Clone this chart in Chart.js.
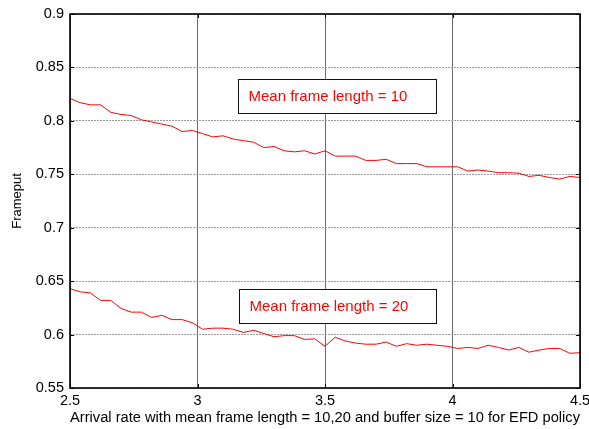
<!DOCTYPE html>
<html>
<head>
<meta charset="utf-8">
<script src="https://cdn.jsdelivr.net/npm/chart.js@4/dist/chart.umd.min.js"></script>
<style>
  html, body { margin: 0; padding: 0; background: #fff; }
  #wrap { width: 589px; height: 429px; }
</style>
</head>
<body>
<div id="wrap"><canvas id="c" width="589" height="429"></canvas></div>
<script>
// Arrival rate samples (step 0.04)
const arrivalRate = [
  2.50, 2.54, 2.58, 2.62, 2.66, 2.70, 2.74, 2.78, 2.82, 2.86,
  2.90, 2.94, 2.98, 3.02, 3.06, 3.10, 3.14, 3.18, 3.22, 3.26,
  3.30, 3.34, 3.38, 3.42, 3.46, 3.50, 3.54, 3.58, 3.62, 3.66,
  3.70, 3.74, 3.78, 3.82, 3.86, 3.90, 3.94, 3.98, 4.02, 4.06,
  4.10, 4.14, 4.18, 4.22, 4.26, 4.30, 4.34, 4.38, 4.42, 4.46,
  4.50
];

// Frameput, mean frame length = 10
const frameputLen10 = [
  0.821, 0.817, 0.815, 0.815, 0.808, 0.806, 0.805, 0.801, 0.799, 0.797,
  0.795, 0.790, 0.791, 0.788, 0.785, 0.786, 0.783, 0.7815, 0.780, 0.775,
  0.776, 0.772, 0.771, 0.772, 0.769, 0.772, 0.767, 0.767, 0.767, 0.763,
  0.763, 0.764, 0.760, 0.760, 0.760, 0.757, 0.757, 0.757, 0.757, 0.753,
  0.754, 0.753, 0.7515, 0.7515, 0.751, 0.748, 0.749, 0.747, 0.7455, 0.748,
  0.747
];

// Frameput, mean frame length = 20
const frameputLen20 = [
  0.643, 0.640, 0.639, 0.632, 0.632, 0.6245, 0.621, 0.621, 0.616, 0.618,
  0.614, 0.614, 0.611, 0.605, 0.606, 0.606, 0.605, 0.602, 0.604, 0.601,
  0.598, 0.599, 0.599, 0.5955, 0.596, 0.589, 0.5975, 0.594, 0.592, 0.591,
  0.591, 0.593, 0.589, 0.5915, 0.590, 0.591, 0.590, 0.589, 0.587, 0.588,
  0.587, 0.590, 0.588, 0.5855, 0.588, 0.5835, 0.5855, 0.587, 0.587, 0.5825,
  0.583
];

const xTickLabels = ['2.5', '3', '3.5', '4', '4.5'];
const yTickLabels = ['0.55', '0.6', '0.65', '0.7', '0.75', '0.8', '0.85', '0.9'];

const seriesLabels = ['Mean frame length = 10', 'Mean frame length = 20'];

const FONT = '"Liberation Sans", Arial, sans-serif';

// Axes frame with inward tick marks on all four sides
const framePlugin = {
  id: 'frame',
  afterDatasetsDraw(chart) {
    const { ctx, chartArea: a, scales } = chart;
    ctx.save();
    ctx.strokeStyle = '#000';
    ctx.lineWidth = 1;
    const tl = 4;
    ctx.beginPath();
    scales.x.ticks.forEach(t => {
      const px = Math.round(scales.x.getPixelForValue(t.value)) + 0.5;
      ctx.moveTo(px, a.bottom); ctx.lineTo(px, a.bottom - tl);
      ctx.moveTo(px, a.top); ctx.lineTo(px, a.top + tl);
    });
    scales.y.ticks.forEach(t => {
      const py = Math.round(scales.y.getPixelForValue(t.value)) + 0.5;
      ctx.moveTo(a.left, py); ctx.lineTo(a.left + tl, py);
      ctx.moveTo(a.right, py); ctx.lineTo(a.right - tl, py);
    });
    ctx.stroke();
    ctx.lineWidth = 1.6;
    ctx.strokeRect(a.left, a.top, a.right - a.left, a.bottom - a.top);
    ctx.restore();
  }
};

// Boxed text labels naming each curve
const boxLabels = [
  { text: seriesLabels[0], x0: 3.159, x1: 3.935, y0: 0.8392, y1: 0.8074 },
  { text: seriesLabels[1], x0: 3.163, x1: 3.935, y0: 0.6427, y1: 0.6108 }
];
const boxPlugin = {
  id: 'boxes',
  afterDraw(chart) {
    const { ctx, scales } = chart;
    ctx.save();
    boxLabels.forEach(b => {
      const l = Math.round(scales.x.getPixelForValue(b.x0)) + 0.5;
      const r = Math.round(scales.x.getPixelForValue(b.x1)) + 0.5;
      const t = Math.round(scales.y.getPixelForValue(b.y0)) + 0.5;
      const bt = Math.round(scales.y.getPixelForValue(b.y1)) + 0.5;
      ctx.fillStyle = '#fff';
      ctx.fillRect(l, t, r - l, bt - t);
      ctx.strokeStyle = '#111';
      ctx.lineWidth = 1;
      ctx.strokeRect(l, t, r - l, bt - t);
      ctx.fillStyle = '#ff0000';
      ctx.font = '15px ' + FONT;
      ctx.textBaseline = 'middle';
      ctx.textAlign = 'left';
      ctx.fillText(b.text, l + 10, (t + bt) / 2 + 0.5);
    });
    ctx.restore();
  }
};

const pick = (labels, min, step) => v => labels[Math.round((v - min) / step)] ?? '';

new Chart(document.getElementById('c'), {
  type: 'line',
  data: {
    labels: arrivalRate,
    datasets: [
      { label: seriesLabels[0], data: frameputLen10 },
      { label: seriesLabels[1], data: frameputLen20 }
    ].map(d => ({
      ...d,
      borderColor: '#ff0000',
      borderWidth: 1,
      pointRadius: 0,
      tension: 0,
      fill: false
    }))
  },
  options: {
    responsive: false,
    animation: false,
    events: [],
    layout: { padding: { left: 0, top: 14, right: 9, bottom: 0 } },
    plugins: { legend: { display: false }, tooltip: { enabled: false } },
    scales: {
      x: {
        type: 'linear',
        min: 2.5, max: 4.5,
        ticks: {
          stepSize: 0.5,
          padding: 4,
          color: '#000',
          font: { family: FONT, size: 14.5 },
          maxRotation: 0,
          callback: pick(xTickLabels, 2.5, 0.5)
        },
        grid: { color: '#6a6a6a', lineWidth: 1, drawTicks: false },
        border: { display: false },
        title: {
          display: true,
          text: 'Arrival rate with mean frame length = 10,20 and buffer size = 10 for EFD policy',
          color: '#000',
          font: { family: FONT, size: 15.5 },
          padding: { top: 0, bottom: 2 }
        },
        afterFit(s) { s.height = 41; s.paddingLeft = 0; s.paddingRight = 0; }
      },
      y: {
        min: 0.55, max: 0.9,
        ticks: {
          stepSize: 0.05,
          padding: 6,
          color: '#000',
          font: { family: FONT, size: 14.5 },
          callback: pick(yTickLabels, 0.55, 0.05)
        },
        grid: { color: '#9a9a9a', lineWidth: 1, drawTicks: false },
        border: { display: false, dash: [2, 1] },
        title: {
          display: true,
          text: 'Frameput',
          color: '#000',
          font: { family: FONT, size: 13 },
          padding: { top: 10, bottom: 0 }
        },
        afterFit(s) { s.width = 70; s.paddingTop = 0; s.paddingBottom = 0; }
      }
    }
  },
  plugins: [framePlugin, boxPlugin]
});
</script>
</body>
</html>
